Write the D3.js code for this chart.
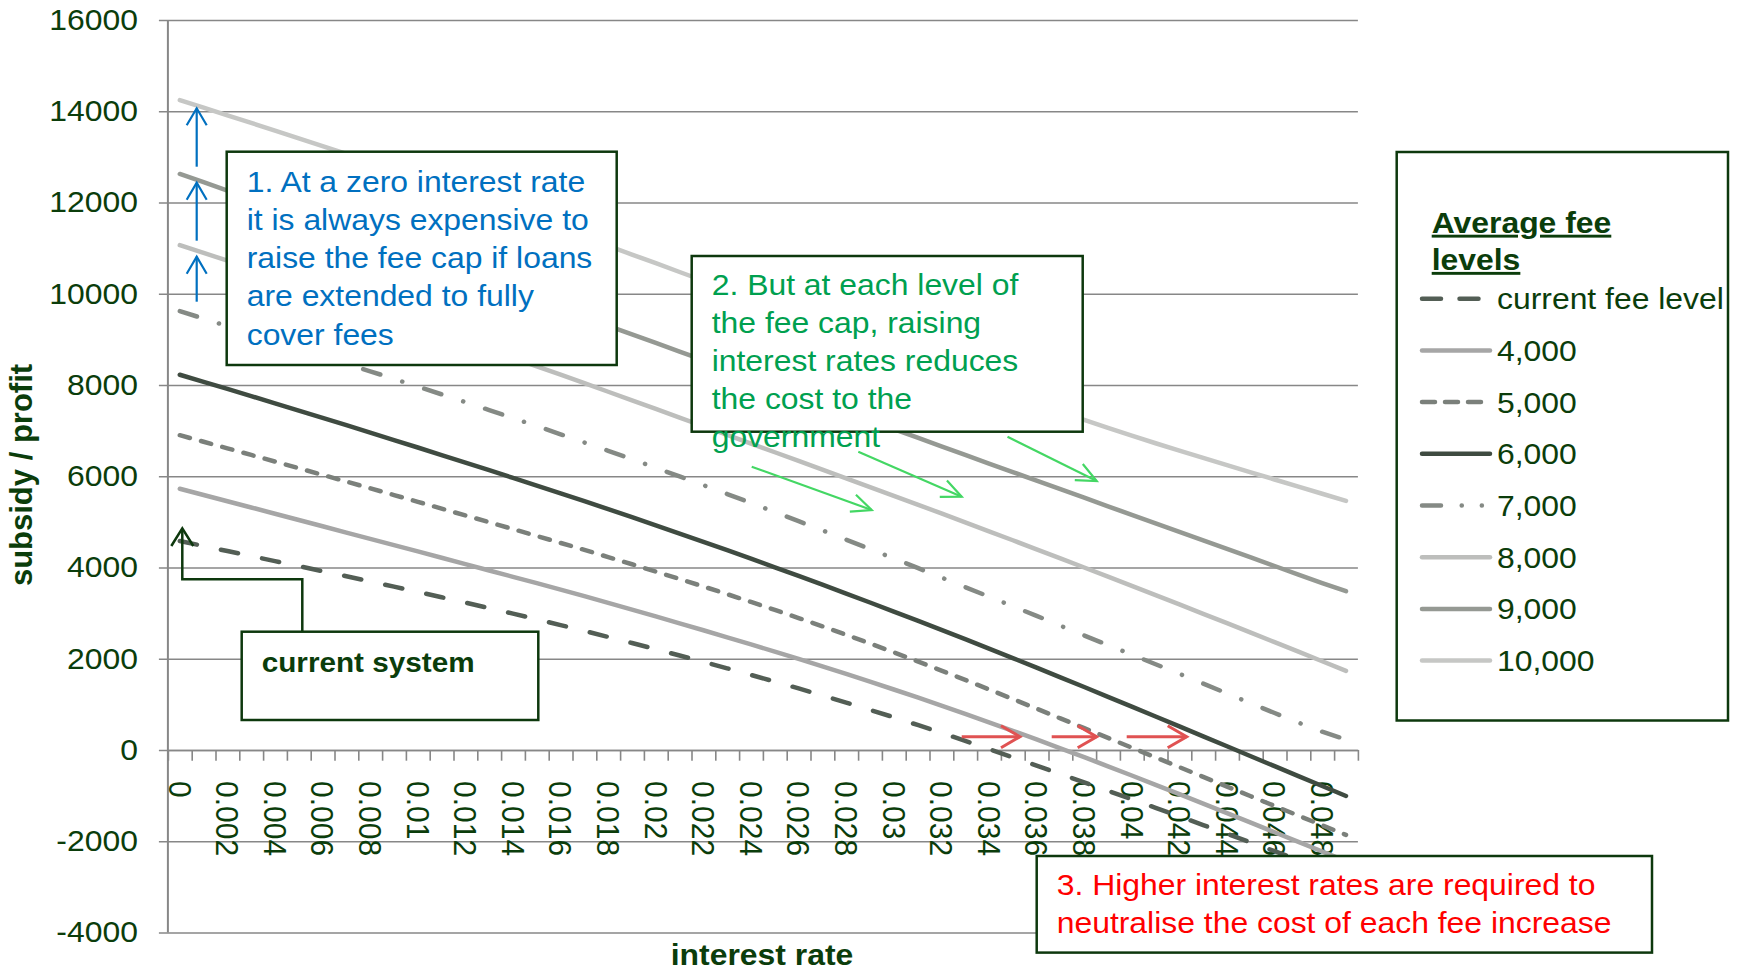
<!DOCTYPE html>
<html>
<head>
<meta charset="utf-8">
<script src="https://cdn.jsdelivr.net/npm/d3@7"></script>
<style>
body { margin: 0; background: #fff; }
svg text { font-family: "Liberation Sans", Arial, sans-serif; }
</style>
</head>
<body>
<svg id="chart" width="1741" height="970"></svg>
<script>
// interest rate categories (x axis) and the labels shown on every 2nd one
var rates = [0,0.001,0.002,0.003,0.004,0.005,0.006,0.007,0.008,0.009,
  0.010,0.011,0.012,0.013,0.014,0.015,0.016,0.017,0.018,0.019,
  0.020,0.021,0.022,0.023,0.024,0.025,0.026,0.027,0.028,0.029,
  0.030,0.031,0.032,0.033,0.034,0.035,0.036,0.037,0.038,0.039,
  0.040,0.041,0.042,0.043,0.044,0.045,0.046,0.047,0.048,0.049];
var xTickLabels = ["0","0.002","0.004","0.006","0.008","0.01","0.012","0.014","0.016","0.018",
  "0.02","0.022","0.024","0.026","0.028","0.03","0.032","0.034","0.036","0.038",
  "0.04","0.042","0.044","0.046","0.048"];
var yTicks = [-4000,-2000,0,2000,4000,6000,8000,10000,12000,14000,16000];

var seriesNames = ["current fee level","4,000","5,000","6,000","7,000","8,000","9,000","10,000"];

// subsidy / profit per fee level
var currentFee = [4580,4470,4360,4250,4140,4030,3919,3807,3694,3580,
  3465,3348,3230,3110,2988,2864,2738,2609,2478,2345,
  2210,2072,1932,1790,1645,1499,1350,1196,1040,880,
  717,549,376,200,20,-161,-343,-526,-710,-895,
  -1081,-1268,-1456,-1645,-1835,-2026,-2218,-2410,-2602,-2794];
var fee4000 = [5727,5590,5453,5316,5179,5042,4904,4766,4628,4490,
  4352,4213,4074,3935,3796,3656,3516,3372,3226,3078,
  2928,2777,2624,2470,2314,2156,1996,1833,1667,1498,
  1326,1151,973,792,608,421,231,38,-158,-357,
  -559,-763,-969,-1176,-1384,-1593,-1803,-2013,-2224,-2435];
var fee5000 = [6900,6756,6612,6467,6322,6176,6030,5883,5736,5588,
  5440,5291,5142,4992,4842,4691,4539,4385,4229,4071,
  3911,3749,3584,3416,3245,3071,2893,2711,2525,2335,
  2141,1943,1741,1536,1328,1118,906,693,479,265,
  51,-163,-376,-589,-802,-1014,-1226,-1438,-1650,-1862];
var fee6000 = [8225,8070,7914,7757,7599,7440,7280,7119,6957,6794,
  6630,6465,6299,6132,5964,5795,5625,5453,5279,5103,
  4925,4745,4563,4379,4193,4005,3815,3623,3429,3233,
  3035,2835,2633,2429,2223,2015,1805,1593,1380,1166,
  951,735,518,300,82,-136,-354,-572,-790,-1008];
var fee7000 = [9620,9455,9290,9125,8960,8795,8630,8465,8300,8135,
  7965,7795,7625,7450,7275,7100,6920,6740,6558,6375,
  6185,5995,5805,5610,5415,5215,5015,4815,4610,4405,
  4200,3990,3780,3570,3360,3150,2940,2725,2510,2300,
  2090,1880,1670,1455,1240,1025,810,600,400,230];
var fee8000 = [11065,10895,10724,10552,10379,10205,10030,9854,9677,9499,
  9320,9140,8959,8777,8594,8410,8225,8039,7852,7664,
  7475,7286,7096,6906,6716,6526,6336,6146,5955,5764,
  5572,5379,5185,4990,4794,4597,4399,4200,4000,3799,
  3597,3394,3190,2985,2779,2572,2364,2155,1945,1734];
var fee9000 = [12625,12445,12263,12080,11896,11711,11526,11340,11154,10968,
  10782,10596,10410,10224,10038,9852,9666,9480,9294,9108,
  8921,8734,8546,8357,8168,7979,7790,7601,7412,7223,
  7034,6845,6656,6467,6279,6091,5903,5716,5529,5342,
  5155,4968,4781,4594,4407,4220,4033,3846,3659,3480];
var fee10000 = [14245,14078,13911,13744,13576,13407,13237,13065,12891,12715,
  12537,12357,12175,11991,11805,11618,11430,11241,11051,10860,
  10669,10477,10285,10093,9901,9709,9517,9325,9133,8941,
  8749,8556,8363,8171,7980,7790,7602,7417,7236,7060,
  6889,6723,6561,6401,6243,6086,5929,5773,5617,5461];

var allSeries = [currentFee, fee4000, fee5000, fee6000, fee7000, fee8000, fee9000, fee10000];

// line looks, same order as seriesNames
var styles = [
  {color: "#535e55", dash: "17.5,24.5", cap: "round", legendDash: "19,18.5"},
  {color: "#a6a6a6", dash: null, cap: "round"},
  {color: "#7b807b", dash: "10.5,11.5", cap: "round", legendDash: "13,10"},
  {color: "#3f4b41", dash: null, cap: "round"},
  {color: "#858a85", dash: "18,23,0.1,23", cap: "round", legendDash: "19,20.7,0.1,20,0.1,100"},
  {color: "#bdbebc", dash: null, cap: "round"},
  {color: "#959993", dash: null, cap: "round"},
  {color: "#c6c7c5", dash: null, cap: "round"}
];

var textGreen = "#0b3d0b";
var boxGreen = "#0d380d";
var stretch = 1.1;

var plotLeft = 167.9, plotRight = 1357.9, plotTop = 20, plotBottom = 932.5;

var svg = d3.select("#chart");

var x = d3.scaleBand().domain(rates).range([plotLeft, plotRight]).padding(0);
var xEdge = d3.scaleLinear().domain([0, rates.length]).range([plotLeft, plotRight]);
var y = d3.scaleLinear().domain([-4000, 16000]).range([plotBottom, plotTop]);

function cx(i) { return x(rates[i]) + x.bandwidth() / 2; }

// horizontal text drawn a little wide, like the source
function addText(parent, str, tx, ty, size, color, bold) {
  return parent.append("text")
    .attr("transform", "translate(" + tx + "," + ty + ") scale(" + stretch + ",1)")
    .attr("font-size", size)
    .attr("font-weight", bold ? "bold" : "normal")
    .attr("fill", color)
    .text(str);
}

function drawBox(x0, y0, x1, y1) {
  svg.append("rect")
    .attr("x", x0).attr("y", y0)
    .attr("width", x1 - x0).attr("height", y1 - y0)
    .attr("fill", "#fff")
    .attr("stroke", boxGreen)
    .attr("stroke-width", 2.5);
}

function arrow(x1, y1, x2, y2, color, w, headLen, headHalf) {
  var ang = Math.atan2(y2 - y1, x2 - x1);
  var bx = x2 - headLen * Math.cos(ang), by = y2 - headLen * Math.sin(ang);
  var px = -Math.sin(ang) * headHalf, py = Math.cos(ang) * headHalf;
  svg.append("line")
    .attr("x1", x1).attr("y1", y1).attr("x2", x2).attr("y2", y2)
    .attr("stroke", color).attr("stroke-width", w);
  svg.append("path")
    .attr("d", "M" + (bx + px) + "," + (by + py) + "L" + x2 + "," + y2 + "L" + (bx - px) + "," + (by - py))
    .attr("fill", "none").attr("stroke", color).attr("stroke-width", w);
}

// y axis with gridlines running across the plot
var yAxisG = svg.append("g")
  .attr("transform", "translate(" + (plotLeft - 9) + ",0)")
  .call(d3.axisLeft(y).tickValues(yTicks)
    .tickSizeInner(-(plotRight - plotLeft + 9)).tickSizeOuter(0)
    .tickPadding(21).tickFormat(function(d) { return String(d); }));
yAxisG.select(".domain").remove();
yAxisG.selectAll("line").attr("stroke", "#878787").attr("stroke-width", 1.6);
yAxisG.selectAll("text")
  .attr("x", -21 / stretch)
  .attr("transform", "scale(" + stretch + ",1)")
  .attr("font-size", 29)
  .attr("font-family", null)
  .attr("fill", textGreen);

svg.append("line")
  .attr("x1", plotLeft).attr("x2", plotLeft)
  .attr("y1", plotTop).attr("y2", plotBottom)
  .attr("stroke", "#878787").attr("stroke-width", 2);

// category boundary ticks along the zero line
var xTickG = svg.append("g")
  .attr("transform", "translate(0," + y(0) + ")")
  .call(d3.axisBottom(xEdge).tickValues(d3.range(0, rates.length + 1))
    .tickSizeInner(10.7).tickSizeOuter(0).tickFormat(""));
xTickG.selectAll("line, path").attr("stroke", "#878787").attr("stroke-width", 1.6);

// rotated rate labels
var labelled = rates.filter(function(d, i) { return i % 2 === 0; });
var xLabG = svg.append("g")
  .attr("transform", "translate(0," + y(0) + ")")
  .call(d3.axisBottom(x).tickValues(labelled).tickSize(0)
    .tickFormat(function(d, i) { return xTickLabels[i]; }));
xLabG.select(".domain").remove();
xLabG.selectAll("text")
  .attr("x", 0).attr("y", 0).attr("dy", "0.35em")
  .attr("transform", "translate(0,31) scale(1.06,1) rotate(90)")
  .attr("text-anchor", "start")
  .attr("font-size", 30)
  .attr("font-family", null)
  .attr("fill", textGreen);

// series
var line = d3.line()
  .x(function(d, i) { return cx(i); })
  .y(function(d) { return y(d); });

allSeries.forEach(function(vals, k) {
  var st = styles[k];
  svg.append("path")
    .datum(vals)
    .attr("d", line)
    .attr("fill", "none")
    .attr("stroke", st.color)
    .attr("stroke-width", 4.5)
    .attr("stroke-linecap", st.cap)
    .attr("stroke-dasharray", st.dash);
});

// axis titles
svg.append("text")
  .attr("transform", "translate(32,475) rotate(-90)")
  .attr("text-anchor", "middle")
  .attr("font-size", 31)
  .attr("font-weight", "bold")
  .attr("fill", textGreen)
  .text("subsidy / profit");

addText(svg, "interest rate", 762, 965, 29, textGreen, true).attr("text-anchor", "middle");

// annotation 1 (blue)
var blue = "#0070c0";
arrow(196.7, 166.7, 196.7, 108.3, blue, 2.2, 17, 10);
arrow(196.7, 240.7, 196.7, 182.7, blue, 2.2, 17, 10);
arrow(196.7, 301.7, 196.7, 256.7, blue, 2.2, 17, 10);
drawBox(226.7, 151.7, 616.7, 365);
["1. At a zero interest rate", "it is always expensive to", "raise the fee cap if loans",
 "are extended to fully", "cover fees"].forEach(function(s, i) {
  addText(svg, s, 246.7, 191.7 + i * 38.2, 29, blue, false);
});

// annotation 2 (green)
var green = "#00a04f", lightGreen = "#44d764";
drawBox(691.7, 256, 1082.7, 431.7);
["2. But at each level of", "the fee cap, raising", "interest rates reduces",
 "the cost to the", "government"].forEach(function(s, i) {
  addText(svg, s, 711.7, 295 + i * 37.9, 29, green, false);
});
arrow(751.7, 466.7, 871.7, 510, lightGreen, 2.2, 20, 9);
arrow(858.3, 451.7, 961.7, 496.7, lightGreen, 2.2, 20, 9);
arrow(1007.5, 436.7, 1096.7, 481, lightGreen, 2.2, 20, 9);

// annotation 3 (red)
var red = "#e05252";
arrow(961.7, 736.7, 1020, 736.7, red, 3, 19, 11);
arrow(1051.7, 736.7, 1096.7, 736.7, red, 3, 19, 11);
arrow(1126.7, 736.7, 1186.7, 736.7, red, 3, 19, 11);
drawBox(1036.7, 856, 1652, 952.6);
addText(svg, "3. Higher interest rates are required to", 1056.7, 895, 29, "#ff0000", false);
addText(svg, "neutralise the cost of each fee increase", 1056.7, 933.3, 29, "#ff0000", false);

// current system callout
svg.append("path")
  .attr("d", "M302.3,631.7V579.3H182.3V529.5")
  .attr("fill", "none").attr("stroke", boxGreen).attr("stroke-width", 2.5);
svg.append("path")
  .attr("d", "M171.3,546L182.3,528.3L193.3,546")
  .attr("fill", "none").attr("stroke", boxGreen).attr("stroke-width", 2.5);
drawBox(241.7, 631.7, 538.3, 720);
addText(svg, "current system", 261.7, 671.7, 27, textGreen, true);

// legend
drawBox(1396.7, 152, 1728, 720.5);
addText(svg, "Average fee", 1431.7, 232.8, 29, textGreen, true).attr("text-decoration", "underline");
addText(svg, "levels", 1431.7, 270, 29, textGreen, true).attr("text-decoration", "underline");

seriesNames.forEach(function(name, k) {
  var st = styles[k];
  var ly = 298.7 + k * 51.7;
  svg.append("line")
    .attr("x1", 1422).attr("x2", 1490)
    .attr("y1", ly).attr("y2", ly)
    .attr("stroke", st.color)
    .attr("stroke-width", 4.5)
    .attr("stroke-linecap", st.cap)
    .attr("stroke-dasharray", st.legendDash || null);
  addText(svg, name, 1497, ly + 10.5, 29, textGreen, false);
});
</script>
</body>
</html>
